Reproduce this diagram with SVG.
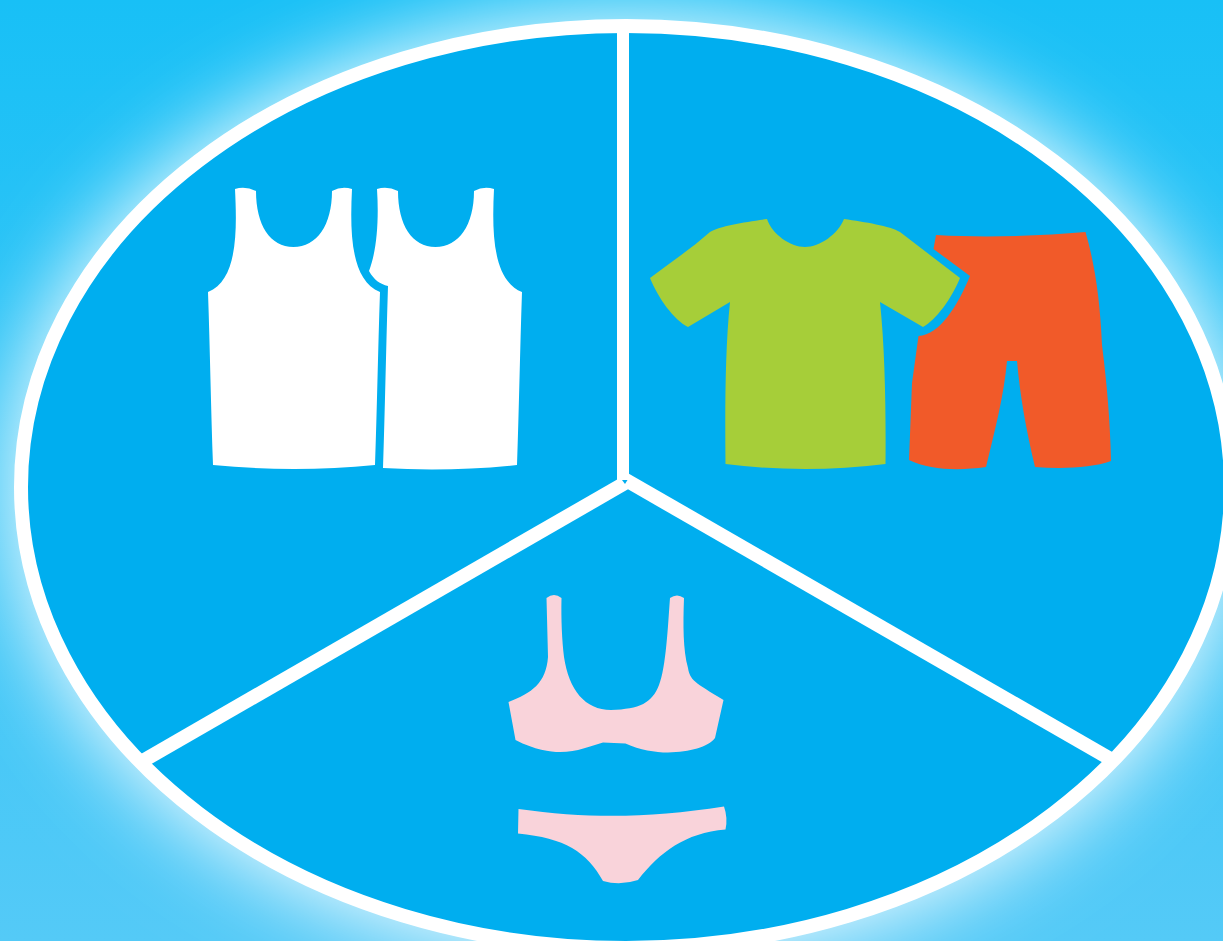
<svg xmlns="http://www.w3.org/2000/svg" width="1223" height="941" viewBox="0 0 1223 941">
  <style>
    .rim{fill:#00aeef;stroke:#fff;stroke-width:14}
    .spoke{fill:none;stroke:#fff;stroke-width:14}
    .white{fill:#fff}
    .green{fill:#a6ce39}
    .orange{fill:#f15a29}
    .pink{fill:#f9d3da}
  </style>
  <defs>
    <linearGradient id="bg" x1="0" y1="0" x2="0" y2="1">
      <stop offset="0" stop-color="#18c0f6"/>
      <stop offset="1" stop-color="#54caf7"/>
    </linearGradient>
    <filter id="blur" x="-25%" y="-25%" width="150%" height="150%">
      <feGaussianBlur stdDeviation="45"/>
    </filter>
  </defs>
  <rect width="1223" height="941" fill="url(#bg)"/>
  <ellipse cx="626" cy="487" rx="614" ry="470" fill="#fff" filter="url(#blur)"/>
  <ellipse id="disk" class="rim" cx="626" cy="487" rx="605" ry="461"/>
  <g id="connectors">
    <path class="spoke" d="M623 30V482" style="stroke-width:12"/>
    <path class="spoke" d="M140 762.500L625 483"/>
    <path class="spoke" d="M1114 761L625 479.500"/>
    <path d="M622 480H627.500L625 484Z" fill="#00aeef"/>
  </g>
  <g id="tank-top-1">
    <path class="white" d="M235 189Q245 185.500 256 191C256 225 270 247 293.500 247C317 247 332 225 332 191Q342 185.500 352 189C350 230 350 280 380 292C378 350 377 410 375 465Q294 473 213 465C211 410 210 350 208 292C238 280 237 230 235 189Z"/>
  </g>
  <g id="tank-top-2">
    <path class="white" d="M377 189Q387 185.500 398 191C398 225 412 247 435.500 247C459 247 474 225 474 191Q484 185.500 494 189C492 230 492 280 522 292C520 350 519 410 517 465Q450 472 383 468C385 410 386 350 388 286C380 284 374 280 369 271C377 250 379 220 377 189Z"/>
  </g>
  <g id="t-shirt">
    <path class="green" d="M767 219C772 234 790 247 805 247C820 247 838 234 844 219C865 222 890 226 900 232L960 278C952 298 936 320 923 327L880 302C885 350 886 410 885.500 464Q805 474 725.500 464C725 410 725 350 730 302L688 327C674 320 658 298 650 278C670 263 692 248 710 232C720 226 745 222 767 219Z"/>
  </g>
  <g id="shorts">
    <path class="orange" d="M936 235C985 238 1040 236 1085.500 232C1095 265 1100 300 1102 345C1107 385 1110 420 1111 461C1092 468 1062 469 1035 467C1026 430 1020 395 1017 361H1007C1004 395 995 430 986 467C958 471 930 470 909 460L912 383L918.500 336C940 335 958 305 970 276L933.500 249Z"/>
  </g>
  <g id="bra">
    <path class="pink" d="M546.500 598Q554 592 561.500 598C561 620 562 640 564 657C569 690 585 710 611 710C640 709 652 703 659 685C666 668 668 625 670 598Q677 593 684 598C683 625 683 650 688 668C690 680 694 682 723.500 700L715 738C708 747 690 752 668 752.500C655 752.500 640 750 625.500 743.500L603 742.500C590 746 578 752 560 752C550 752 535 750 515.500 740L508.500 702C532 693 546 683 548 657Z"/>
  </g>
  <g id="briefs">
    <path class="pink" d="M518.500 809C590 819 650 818 724 806.500Q728 818 725.500 829.500C685 833 660 852 638 880Q620 886 603 881C587 852 565 838 518 833.500Z"/>
  </g>
</svg>
